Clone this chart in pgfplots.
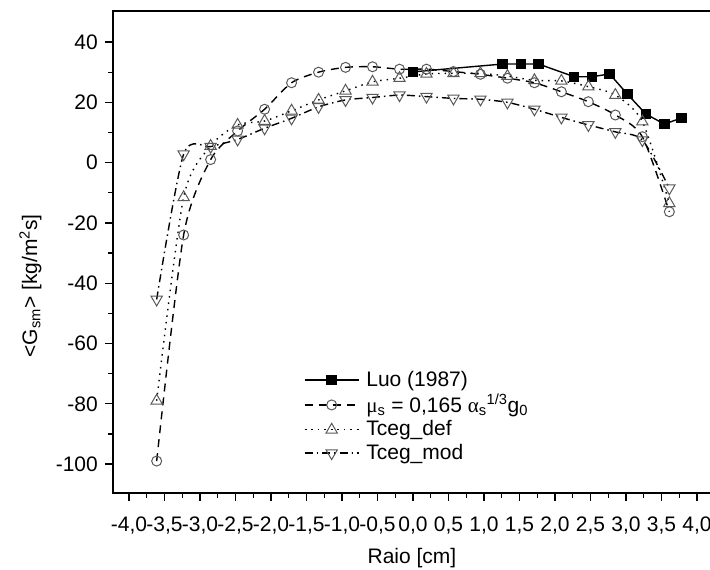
\documentclass[border=0pt]{standalone}
\usepackage{fontspec}
\setmainfont{Liberation Sans}
\newfontfamily\greek{Liberation Serif}
\usepackage{pgfplots}
\pgfplotsset{compat=1.18}

\pgfplotstableread{
x y
0.00 30.1
1.26 32.7
1.52 32.7
1.77 32.7
2.27 28.5
2.52 28.5
2.77 29.4
3.02 22.7
3.28 16.1
3.54 12.8
3.78 14.8
}\luo

\pgfplotstableread{
x mu def mod
-3.61 -99.0 -79.0 -45.4
-3.23 -24.0 -11.5 2.8
-2.85 1.0 5.5 5.3
-2.47 10.5 12.5 7.7
-2.09 17.7 13.8 11.4
-1.71 26.5 17.2 14.7
-1.33 30.0 20.8 18.5
-0.95 31.6 23.8 20.8
-0.57 31.8 26.8 21.6
-0.19 31.0 28.0 22.4
0.19 31.0 29.4 21.9
0.57 30.2 29.6 21.3
0.95 29.3 29.6 21.0
1.33 28.0 28.7 20.0
1.71 26.5 27.3 17.7
2.09 23.5 27.1 15.0
2.47 20.2 25.2 12.5
2.85 15.8 22.4 10.2
3.23 8.6 13.6 7.5
3.61 -16.3 -13.5 -8.5
}\sim

\begin{document}
\fontsize{21}{25}\selectfont
\begin{tikzpicture}
\begin{axis}[
  scale only axis, width=598pt, height=482pt,
  xmin=-4.225, xmax=4.197, ymin=-109.6, ymax=50.3,
  xtick={-4,-3.5,-3,-2.5,-2,-1.5,-1,-0.5,0,0.5,1,1.5,2,2.5,3,3.5,4},
  ytick={-100,-80,-60,-40,-20,0,20,40},
  minor x tick num=1, minor y tick num=1,
  tick pos=left, tick align=outside,
  major tick length=8pt, minor tick length=5pt,
  tick style={line width=1.3pt, black},
  axis line style={line width=1.8pt},
  /pgf/number format/assume math mode=true,
  tick label style={font=\fontsize{21}{25}\selectfont},
  label style={font=\fontsize{21}{25}\selectfont},
  xticklabel style={yshift=-9pt, /pgf/number format/.cd, fixed, fixed zerofill, precision=1, use comma},
  xlabel={Raio [cm]},
  ylabel={<G\textsubscript{sm}> [kg/m\textsuperscript{2}s]},
  ylabel style={at={(ticklabel cs:0.43)}},
  legend cell align=left,
  legend image code/.code={\draw[mark repeat=2,mark phase=2,#1] plot coordinates {(0pt,0pt) (27pt,0pt) (54pt,0pt)};},
  legend style={draw=none, fill=none, at={(rel axis cs:0.314,0.262)}, anchor=north west,
    font=\fontsize{21}{25}\selectfont, row sep=1pt,
    /tikz/every odd column/.append style={column sep=5pt}},
]
\addplot[black, line width=1.4pt, mark=square*, mark size=4.5pt, mark options={fill=black}]
  table[x=x, y=y] {\luo};
\addlegendentry{Luo (1987)}
\addplot[black, line width=1.4pt, dash pattern=on 8pt off 6pt, smooth, tension=0.45, mark=o, mark size=5pt,
  mark options={solid, draw=gray!70!black, fill=white, line width=1pt}]
  table[x=x, y=mu] {\sim};
\addlegendentry{{\greek μ}\textsubscript{s} = 0,165 {\greek α}\textsubscript{s}\textsuperscript{1/3}g\textsubscript{0}}
\addplot[black, line width=1.4pt, dash pattern=on 1.5pt off 5pt, smooth, tension=0.45, mark=triangle, mark size=6.5pt,
  mark options={solid, draw=gray!70!black, fill=white, line width=1pt}]
  table[x=x, y=def] {\sim};
\addlegendentry{Tceg\_def}
\addplot[black, line width=1.4pt, dash pattern=on 8pt off 4pt on 1.5pt off 4pt, smooth, tension=0.45, mark=triangle, mark size=6.5pt,
  mark options={solid, rotate=180, draw=gray!70!black, fill=white, line width=1pt}]
  table[x=x, y=mod] {\sim};
\addlegendentry{Tceg\_mod}
\end{axis}
\pgfresetboundingbox
\path[use as bounding box] (-113pt,-77pt) rectangle (597pt,493pt);
\end{tikzpicture}
\end{document}
